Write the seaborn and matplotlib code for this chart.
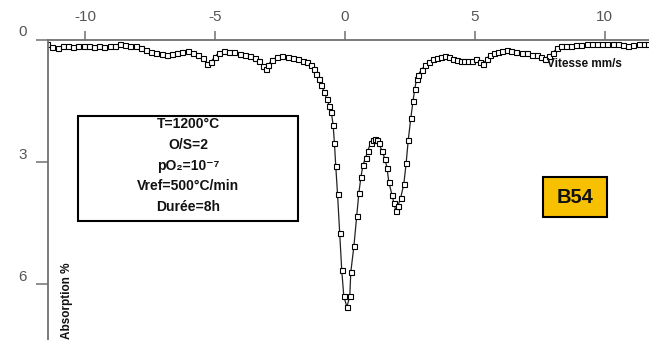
import numpy as np
import pandas as pd
import seaborn as sns
import matplotlib.pyplot as plt
from matplotlib.patches import Rectangle

# Mossbauer spectrum: velocity (mm/s) vs absorption (%)
velocity = [
    -11.45, -11.25, -11.05, -10.85, -10.65, -10.45, -10.25, -10.05, -9.85, -9.65,
    -9.45, -9.25, -9.05, -8.85, -8.65, -8.45, -8.25, -8.05, -7.85, -7.65,
    -7.45, -7.25, -7.05, -6.85, -6.65, -6.45, -6.25, -6.05, -5.85, -5.65,
    -5.45, -5.30, -5.15, -5.00, -4.85, -4.65, -4.45, -4.25, -4.05, -3.85,
    -3.65, -3.45, -3.30, -3.15, -3.05, -2.95, -2.80, -2.60, -2.40, -2.20,
    -2.00, -1.80, -1.60, -1.45, -1.30, -1.20, -1.10, -1.00, -0.90, -0.80,
    -0.70, -0.60, -0.52, -0.45, -0.40, -0.35, -0.28, -0.20, -0.12, -0.04,
    0.08, 0.19, 0.23, 0.35, 0.46, 0.54, 0.62, 0.70, 0.80, 0.88,
    1.00, 1.08, 1.15, 1.23, 1.31, 1.42, 1.54, 1.62, 1.69, 1.81,
    1.88, 1.96, 2.04, 2.15, 2.27, 2.36, 2.44, 2.54, 2.62, 2.69,
    2.76, 2.83, 2.95, 3.10, 3.25, 3.40, 3.55, 3.70, 3.85, 4.00,
    4.15, 4.30, 4.45, 4.60, 4.75, 4.90, 5.05, 5.20, 5.32, 5.45,
    5.58, 5.75, 5.90, 6.05, 6.22, 6.40, 6.60, 6.80, 7.00, 7.20,
    7.40, 7.55, 7.70, 7.85, 8.00, 8.15, 8.30, 8.50, 8.70, 8.90,
    9.10, 9.30, 9.50, 9.70, 9.90, 10.10, 10.30, 10.50, 10.70, 10.90,
    11.10, 11.30, 11.50, 11.65,
]
absorption = [
    0.12, 0.18, 0.20, 0.17, 0.16, 0.18, 0.15, 0.16, 0.17, 0.19,
    0.16, 0.18, 0.16, 0.15, 0.12, 0.14, 0.16, 0.17, 0.21, 0.25,
    0.30, 0.33, 0.35, 0.37, 0.35, 0.34, 0.31, 0.29, 0.33, 0.38,
    0.46, 0.60, 0.55, 0.42, 0.33, 0.29, 0.30, 0.31, 0.35, 0.39,
    0.41, 0.45, 0.52, 0.64, 0.72, 0.62, 0.50, 0.43, 0.41, 0.42,
    0.45, 0.48, 0.52, 0.56, 0.63, 0.72, 0.85, 0.98, 1.12, 1.28,
    1.45, 1.62, 1.78, 2.10, 2.55, 3.10, 3.80, 4.75, 5.65, 6.30,
    6.56, 6.29, 5.70, 5.06, 4.32, 3.76, 3.37, 3.07, 2.90, 2.73,
    2.53, 2.47, 2.45, 2.47, 2.53, 2.73, 2.92, 3.14, 3.49, 3.81,
    4.00, 4.20, 4.08, 3.88, 3.54, 3.02, 2.46, 1.92, 1.52, 1.21,
    0.97, 0.86, 0.74, 0.62, 0.54, 0.48, 0.45, 0.43, 0.41, 0.44,
    0.47, 0.50, 0.53, 0.53, 0.53, 0.52, 0.49, 0.55, 0.61, 0.48,
    0.37, 0.34, 0.31, 0.28, 0.26, 0.29, 0.31, 0.33, 0.34, 0.37,
    0.39, 0.43, 0.47, 0.40, 0.33, 0.22, 0.16, 0.16, 0.15, 0.14,
    0.13, 0.12, 0.11, 0.11, 0.10, 0.11, 0.12, 0.12, 0.14, 0.15,
    0.14, 0.12, 0.12, 0.11,
]
xticks = [-10, -5, 0, 5, 10]
yticks = [0, 3, 6]
conditions = ["T=1200°C", "O/S=2", "pO₂=10⁻⁷", "Vref=500°C/min", "Durée=8h"]
sample = "B54"

W, H = 649, 340


def fx(px):
    return px / W


def fy(py):
    return 1 - py / H


sns.set_theme(style="white")
plt.rcParams['font.family'] = ['Liberation Sans', 'DejaVu Sans']

df = pd.DataFrame({'v': velocity, 'abs': absorption})

fig = plt.figure(figsize=(6.49, 3.40), dpi=100)
ax = fig.add_axes([fx(47.7), 0.0, 1 - fx(47.7), fy(39.5)])

sns.lineplot(data=df, x='v', y='abs', ax=ax, sort=False, estimator=None,
             color='#222222', linewidth=0.9, marker='s', markersize=3.6,
             markerfacecolor='white', markeredgecolor='black', markeredgewidth=0.8)

ax.set_xlim(-11.43, 11.70)
ax.set_ylim(7.37, 0)

ax.spines['right'].set_visible(False)
ax.spines['bottom'].set_visible(False)
for s in ['top', 'left']:
    ax.spines[s].set_color('#707070')
    ax.spines[s].set_linewidth(1.3)

ax.xaxis.tick_top()
ax.set_xticks(xticks)
ax.set_xticklabels([str(t) for t in xticks])
ax.set_yticks(yticks)
ax.set_yticklabels([str(t) for t in yticks], va='bottom')
ax.tick_params(axis='x', direction='out', length=6.5, width=1.1, color='#707070',
               labelsize=11, labelcolor='#555555', pad=5, top=True, bottom=False)
ax.tick_params(axis='y', direction='out', length=9, width=1.1, color='#707070',
               labelsize=11, labelcolor='#555555', pad=6, left=True)
ax.set_xlabel('')
ax.set_ylabel('')

# axis titles
fig.text(fx(584), fy(64), "Vitesse mm/s", ha='center', va='center',
         fontsize=8.5, fontweight='bold', color='#111111')
fig.text(fx(67), fy(339), "Absorption %", ha='center', va='bottom', rotation=90,
         fontsize=8.5, fontweight='bold', color='#111111')

# conditions box
fig.patches.append(Rectangle((fx(78.3), fy(220.7)), fx(298.3) - fx(78.3), fy(116) - fy(220.7),
                             transform=fig.transFigure, fill=False, edgecolor='black',
                             linewidth=1.5))
for i, line in enumerate(conditions):
    fig.text(fx(188), fy(124 + i * 20.8), line, ha='center', va='center',
             fontsize=10, fontweight='bold', color='#111111')

# sample tag
fig.patches.append(Rectangle((fx(542.7), fy(216.7)), fx(607.3) - fx(542.7), fy(177.3) - fy(216.7),
                             transform=fig.transFigure, facecolor='#F7C000', edgecolor='black',
                             linewidth=1.5))
fig.text(fx(575), fy(197), sample, ha='center', va='center',
         fontsize=14.5, fontweight='bold', color='#111111')

fig.savefig('out.png', dpi=100)
